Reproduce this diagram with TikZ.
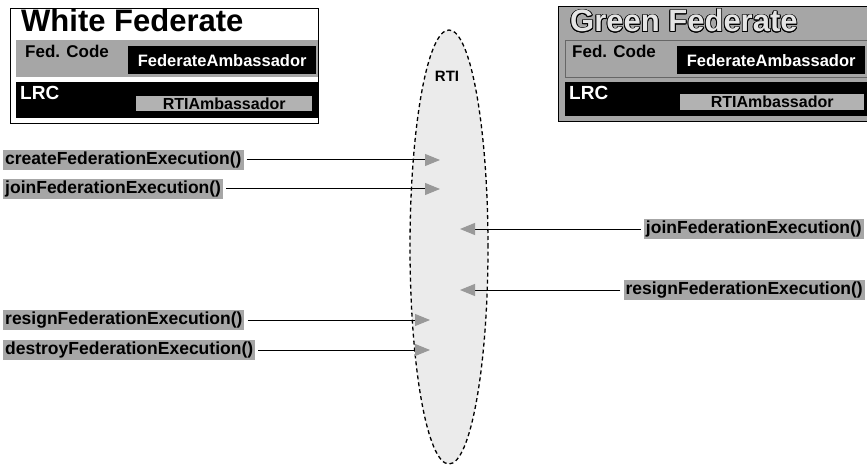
\documentclass[tikz,border=0pt]{standalone}
\usepackage{fontspec}
\setmainfont{Liberation Sans}
\usepackage{contour}
\contourlength{0.8pt}
\usetikzlibrary{arrows.meta,shapes.geometric}
\newcommand{\fsz}[1]{\fontsize{#1}{#1}\selectfont\bfseries}

\begin{document}
\begin{tikzpicture}[x=1pt,y=-1pt]
                        \tikzstyle{bar}=[anchor=north west, inner sep=0pt]
                        \tikzstyle{call}=[fill=black!35, inner sep=2pt, minimum height=20pt, font=\fsz{17.5}]
                        \tikzstyle{msg}=[line width=1pt, shorten <=3pt, -{Triangle[length=15pt,width=12pt,color=black!40]}]
                        \useasboundingbox (0,0) rectangle (867,465);
                        \node[ellipse, draw, dash pattern=on 4pt off 3pt, line width=1.3pt, fill=black!8,
                              minimum width=78pt, minimum height=434pt] (rti) at (449,247) {};
                        \node[font=\fsz{15}] (rtilabel) at (447,76) {RTI};
                        \node[bar, draw, line width=1pt, fill=white, minimum width=308pt, minimum height=115pt] (whitefed) at (10,8) {};
                        \node[anchor=base west, inner sep=0pt, font=\fsz{31}] (whitetitle) at (21,32) {White Federate};
                        \node[bar, fill=black!35, minimum width=302pt, minimum height=37pt] (whitecode) at (16,40) {};
                        \node[anchor=base west, inner sep=0pt, font=\fsz{17}] at (25,58) {Fed. Code};
                        \node[bar, fill=black, text=white, font=\fsz{16.5}, minimum width=188pt, minimum height=28pt] (whiteamb) at (128,46) {FederateAmbassador};
                        \node[bar, fill=black, minimum width=302pt, minimum height=36pt] (whitelrc) at (16,82) {};
                        \node[anchor=base west, inner sep=0pt, text=white, font=\fsz{19}] at (20,100) {LRC};
                        \node[bar, fill=black!30, font=\fsz{16}, minimum width=176pt, minimum height=15pt] (whiterti) at (136,96) {RTIAmbassador};
                        \node[bar, draw, line width=1pt, fill=black!35, minimum width=309pt, minimum height=115pt] (greenfed) at (558,6) {};
                        \node[anchor=base west, inner sep=0pt, text=black!10, font=\fsz{31}] (greentitle) at (570,32) {\contour{black}{Green Federate}};
                        \node[bar, draw=black!60, fill=black!35, minimum width=302pt, minimum height=37pt] (greencode) at (565,40) {};
                        \node[anchor=base west, inner sep=0pt, font=\fsz{17}] at (572,58) {Fed. Code};
                        \node[bar, fill=black, text=white, font=\fsz{16.5}, minimum width=188pt, minimum height=28pt] (greenamb) at (677,46) {FederateAmbassador};
                        \node[bar, fill=black, minimum width=302pt, minimum height=34pt] (greenlrc) at (565,82) {};
                        \node[anchor=base west, inner sep=0pt, text=white, font=\fsz{19}] at (569,100) {LRC};
                        \node[bar, fill=black!30, font=\fsz{16}, minimum width=184pt, minimum height=16pt] (greenrti) at (680,94) {RTIAmbassador};
                        \node[call, anchor=west] (create) at (3,160) {createFederationExecution()};
                        \node[call, anchor=west] (joinw) at (3,189) {joinFederationExecution()};
                        \node[call, anchor=west] (resignw) at (3,320) {resignFederationExecution()};
                        \node[call, anchor=west] (destroy) at (3,350) {destroyFederationExecution()};
                        \node[call, anchor=east] (joing) at (864,229) {joinFederationExecution()};
                        \node[call, anchor=east] (resigng) at (865,290) {resignFederationExecution()};
                        \coordinate (createtip) at (440,160);
                        \coordinate (joinwtip) at (440,189);
                        \coordinate (resignwtip) at (430,320);
                        \coordinate (destroytip) at (430,350);
                        \coordinate (joingtip) at (460,229);
                        \coordinate (resigngtip) at (460,290);
                        \draw[msg] (create) -- (createtip);
                        \draw[msg] (joinw) -- (joinwtip);
                        \draw[msg] (resignw) -- (resignwtip);
                        \draw[msg] (destroy) -- (destroytip);
                        \draw[msg] (joing) -- (joingtip);
                        \draw[msg] (resigng) -- (resigngtip);
                    \end{tikzpicture}
\end{document}
